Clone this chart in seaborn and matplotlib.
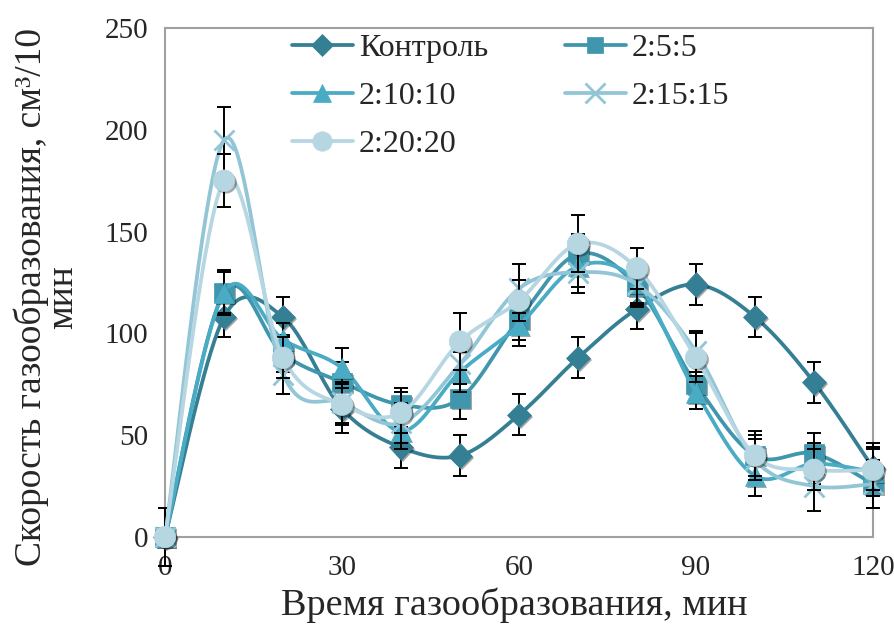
import numpy as np
import matplotlib
matplotlib.use("Agg")
import matplotlib.pyplot as plt
import matplotlib.patheffects as pe
from matplotlib.lines import Line2D
import seaborn as sns

# Gas evolution rate over time for the control and the additive ratios
time_min = [0, 10, 20, 30, 40, 50, 60, 70, 80, 90, 100, 110, 120]
series_names = ["Контроль", "2:5:5", "2:10:10", "2:15:15", "2:20:20"]

rate_control = [0, 108, 108, 63, 44, 40, 60, 88, 112, 124, 108, 76, 34]
rate_2_5_5 = [0, 120, 90, 76, 65, 68, 107, 139, 123, 75, 40, 41, 26]
rate_2_10_10 = [0, 120, 97, 83, 52, 81, 104, 133, 125, 71, 30, 36, 32]
rate_2_15_15 = [0, 195, 80, 66, 56, 85, 122, 130, 124, 91, 38, 25, 26]
rate_2_20_20 = [0, 175, 88, 65, 61, 96, 116, 144, 132, 88, 40, 33, 33]

err_control = [14, 10, 10, 12, 10, 10, 10, 10, 10, 10, 10, 10, 12]
err_2_5_5 = [0, 11, 9, 10, 8, 10, 10, 10, 10, 9, 12, 10, 12]
err_2_10_10 = [0, 10, 8, 10, 9, 10, 10, 10, 10, 8, 10, 10, 12]
err_2_15_15 = [0, 16, 10, 10, 10, 10, 12, 10, 10, 10, 10, 12, 12]
err_2_20_20 = [0, 13, 10, 10, 10, 14, 10, 14, 10, 12, 10, 10, 10]

x_ticks = [0, 30, 60, 90, 120]
y_ticks = [0, 50, 100, 150, 200, 250]

rates = [rate_control, rate_2_5_5, rate_2_10_10, rate_2_15_15, rate_2_20_20]
errors = [err_control, err_2_5_5, err_2_10_10, err_2_15_15, err_2_20_20]
colors = ["#357f94", "#3f96ad", "#4aabc4", "#92c5d6", "#b6d6e2"]
markers = ["D", "s", "^", "x", "o"]
msizes = [12.5, 14, 14.5, 15, 15.5]
leg_sizes = [11, 12, 13, 14, 14]


def smooth_curve(xs, ys, n=40):
    """Bezier smoothing through every point (Catmull-Rom tangents)."""
    p = np.column_stack([np.asarray(xs, float), np.asarray(ys, float)])
    ext = np.vstack([p[0], p, p[-1]])
    t = np.linspace(0, 1, n)[:, None]
    out = []
    for i in range(len(p) - 1):
        p0, p1 = ext[i + 1], ext[i + 2]
        c1 = p0 + (ext[i + 2] - ext[i]) / 6.0
        c2 = p1 - (ext[i + 3] - ext[i + 1]) / 6.0
        seg = ((1 - t) ** 3) * p0 + 3 * ((1 - t) ** 2) * t * c1 \
            + 3 * (1 - t) * t ** 2 * c2 + t ** 3 * p1
        out.append(seg if i == 0 else seg[1:])
    curve = np.vstack(out)
    return curve[:, 0], curve[:, 1]


sns.set_theme(style="white")
plt.rcParams["font.family"] = ["Liberation Serif", "DejaVu Serif"]

fig = plt.figure(figsize=(8.94, 6.33), dpi=100)
ax = fig.add_axes([165 / 894, 1 - 537 / 633, 708 / 894, 509 / 633])

shadow = [pe.SimplePatchShadow(offset=(1.5, -1.5), shadow_rgbFace="#000000", alpha=0.35),
          pe.Normal()]

for k, (name, ys, es, col, mk, ms) in enumerate(
        zip(series_names, rates, errors, colors, markers, msizes)):
    z = 3 + 3 * k
    ax.errorbar(time_min, ys, yerr=es, fmt="none", ecolor="black",
                elinewidth=1.4, capsize=5, capthick=1.4, zorder=z, clip_on=False)
    sx, sy = smooth_curve(time_min, ys)
    sns.lineplot(x=sx, y=sy, sort=False, estimator=None, color=col,
                 linewidth=2.7, ax=ax, zorder=z + 1)
    mline, = ax.plot(time_min, ys, linestyle="none", marker=mk, markersize=ms,
                     color=col, markeredgecolor=col,
                     markeredgewidth=2.0 if mk == "x" else 0.5,
                     zorder=z + 2, clip_on=False)
    mline.set_path_effects(shadow)

ax.set_xlim(0, 120)
ax.set_ylim(0, 250)
ax.set_xticks(x_ticks)
ax.set_yticks(y_ticks)
ax.tick_params(axis="both", length=0, labelsize=21)
ax.tick_params(axis="y", pad=12)
ax.tick_params(axis="x", pad=13)
for s in ax.spines.values():
    s.set_color("#a0a0a0")
    s.set_linewidth(1.5)
ax.grid(False)

fig.text(514 / 894, 1 - 605 / 633, "Время газообразования, мин",
         ha="center", va="center", fontsize=27.5)
fig.text(47 / 894, 1 - 297 / 633, "Скорость газообразования, см³/10\nмин",
         ha="center", va="center", rotation=90, fontsize=27,
         multialignment="center", linespacing=0.85)

# legend reads row by row: fill the two columns in matching order
legend_order = [0, 2, 4, 1, 3]
handles = [Line2D([0], [0], color=colors[i], linewidth=2.7, marker=markers[i],
                  markersize=leg_sizes[i], markeredgecolor=colors[i],
                  markeredgewidth=2.0 if markers[i] == "x" else 0.5)
           for i in legend_order]
ax.legend(handles, [series_names[i] for i in legend_order], loc="upper left",
          bbox_to_anchor=(292 / 894, 1 - 34 / 633), bbox_transform=fig.transFigure,
          ncol=2, frameon=False, fontsize=23, handlelength=1.9,
          handletextpad=0.2, columnspacing=2.4, labelspacing=0.58,
          borderpad=0, borderaxespad=0)

fig.savefig("out.png", dpi=100)
